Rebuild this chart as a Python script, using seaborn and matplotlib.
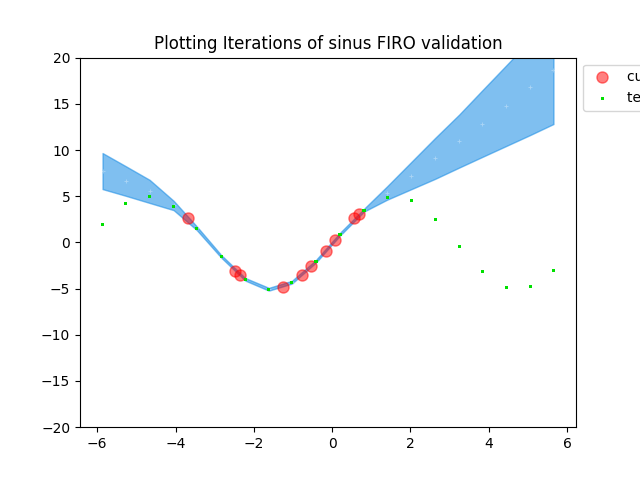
import numpy as np
import matplotlib
matplotlib.use("Agg")
import matplotlib.pyplot as plt
import seaborn as sns

# training points (red)
train_x = [-3.689, -2.494, -2.359, -1.266, -0.772, -0.542, -0.166, 0.072, 0.551, 0.691]
train_y = [2.62, -3.09, -3.56, -4.82, -3.52, -2.55, -0.92, 0.27, 2.62, 3.05]

# test points (green)
test_x = [-5.864, -5.276, -4.662, -4.048, -3.459, -2.835, -2.221, -1.617, -1.028, -0.414,
          0.200, 0.814, 1.403, 2.017, 2.631, 3.245, 3.834, 4.448, 5.062, 5.651]
test_y = [1.97, 4.25, 5.01, 3.92, 1.54, -1.50, -3.99, -5.07, -4.31, -2.04,
          0.89, 3.49, 4.90, 4.57, 2.51, -0.41, -3.12, -4.86, -4.75, -3.01]

# prediction band at the test points
band_upper = [9.67, 8.26, 6.77, 4.50, 1.74, -1.36, -3.85, -4.92, -4.16, -1.90,
              1.04, 3.64, 6.07, 8.69, 11.31, 13.84, 16.46, 19.17, 21.90, 24.50]
band_lower = [5.77, 5.05, 4.27, 3.49, 1.34, -1.64, -4.13, -5.22, -4.46, -2.18,
              0.74, 3.34, 4.62, 5.75, 6.88, 8.10, 9.25, 10.44, 11.63, 12.81]
band_mean = [(u + l) / 2 for u, l in zip(band_upper, band_lower)]

fig, ax = plt.subplots(figsize=(6.4, 4.8), dpi=100)

ax.fill_between(test_x, band_lower, band_upper, color="#168be4", alpha=0.55, linewidth=1)
sns.scatterplot(x=test_x, y=band_mean, ax=ax, color="white", marker="+", s=6,
                alpha=0.35, linewidth=0.6, legend=False)
sns.scatterplot(x=train_x, y=train_y, ax=ax, color="red", s=64, alpha=0.5,
                edgecolor="red", linewidth=1, label="current training points", zorder=3)
sns.scatterplot(x=test_x, y=test_y, ax=ax, color="#00e000", marker="s", s=5,
                edgecolor="none", label="test points", zorder=4)

ax.set_ylim(-20, 20)
ax.set_title("Plotting Iterations of sinus FIRO validation")
ax.legend(loc="upper left", bbox_to_anchor=(1, 1))

fig.savefig("out.png", dpi=100)
